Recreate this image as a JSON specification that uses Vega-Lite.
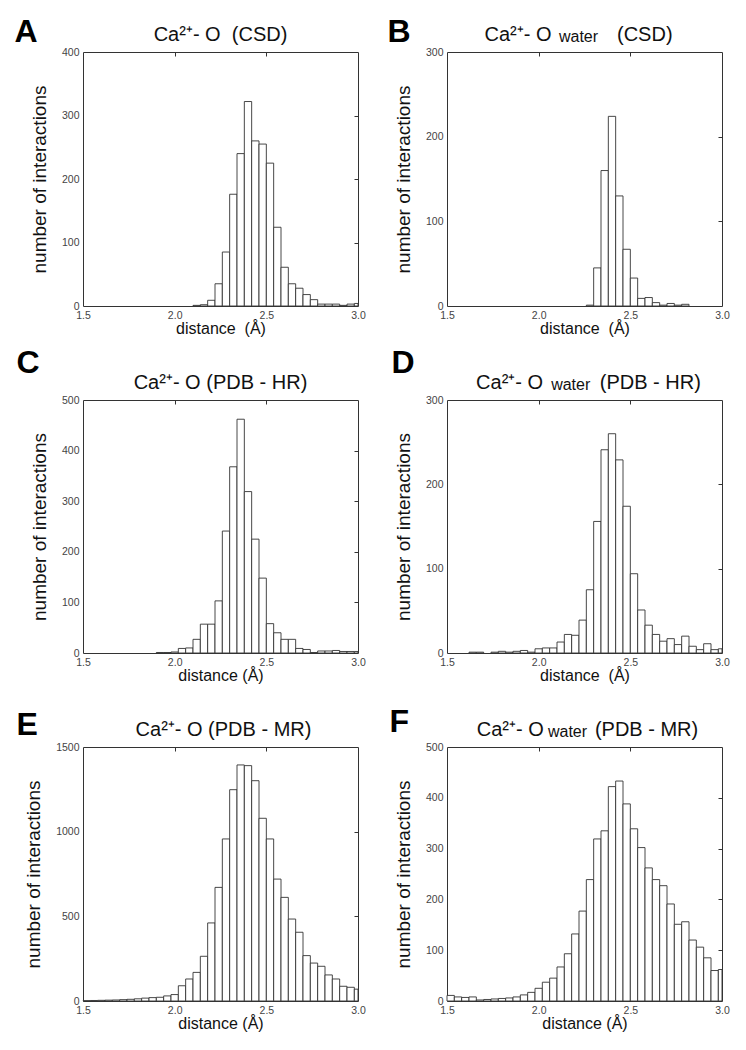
{
  "$schema": "https://vega.github.io/schema/vega-lite/v6.json",
  "padding": {"left": 13, "top": 14, "right": 5, "bottom": 5},
  "data": {"values": [
    {"p":"A","lo":2.10,"hi":2.14,"n":1},{"p":"A","lo":2.14,"hi":2.18,"n":2},{"p":"A","lo":2.18,"hi":2.22,"n":9},{"p":"A","lo":2.22,"hi":2.26,"n":35},{"p":"A","lo":2.26,"hi":2.30,"n":85},{"p":"A","lo":2.30,"hi":2.34,"n":176},{"p":"A","lo":2.34,"hi":2.38,"n":240},{"p":"A","lo":2.38,"hi":2.42,"n":322},{"p":"A","lo":2.42,"hi":2.46,"n":260},{"p":"A","lo":2.46,"hi":2.50,"n":255},{"p":"A","lo":2.50,"hi":2.54,"n":225},{"p":"A","lo":2.54,"hi":2.58,"n":124},{"p":"A","lo":2.58,"hi":2.62,"n":61},{"p":"A","lo":2.62,"hi":2.66,"n":35},{"p":"A","lo":2.66,"hi":2.70,"n":28},{"p":"A","lo":2.70,"hi":2.74,"n":18},{"p":"A","lo":2.74,"hi":2.78,"n":10},{"p":"A","lo":2.78,"hi":2.82,"n":3},{"p":"A","lo":2.82,"hi":2.86,"n":3},{"p":"A","lo":2.86,"hi":2.90,"n":3},{"p":"A","lo":2.90,"hi":2.94,"n":1},{"p":"A","lo":2.94,"hi":2.98,"n":3},{"p":"A","lo":2.98,"hi":3.00,"n":4},
    {"p":"B","lo":2.26,"hi":2.30,"n":1},{"p":"B","lo":2.30,"hi":2.34,"n":45},{"p":"B","lo":2.34,"hi":2.38,"n":160},{"p":"B","lo":2.38,"hi":2.42,"n":224},{"p":"B","lo":2.42,"hi":2.46,"n":130},{"p":"B","lo":2.46,"hi":2.50,"n":67},{"p":"B","lo":2.50,"hi":2.54,"n":33},{"p":"B","lo":2.54,"hi":2.58,"n":9},{"p":"B","lo":2.58,"hi":2.62,"n":10},{"p":"B","lo":2.62,"hi":2.66,"n":4},{"p":"B","lo":2.66,"hi":2.70,"n":1},{"p":"B","lo":2.70,"hi":2.74,"n":3},{"p":"B","lo":2.74,"hi":2.78,"n":1},{"p":"B","lo":2.78,"hi":2.82,"n":2},
    {"p":"C","lo":1.90,"hi":1.94,"n":1},{"p":"C","lo":1.94,"hi":1.98,"n":1},{"p":"C","lo":1.98,"hi":2.02,"n":2},{"p":"C","lo":2.02,"hi":2.06,"n":9},{"p":"C","lo":2.06,"hi":2.10,"n":10},{"p":"C","lo":2.10,"hi":2.14,"n":27},{"p":"C","lo":2.14,"hi":2.18,"n":57},{"p":"C","lo":2.18,"hi":2.22,"n":57},{"p":"C","lo":2.22,"hi":2.26,"n":103},{"p":"C","lo":2.26,"hi":2.30,"n":241},{"p":"C","lo":2.30,"hi":2.34,"n":368},{"p":"C","lo":2.34,"hi":2.38,"n":462},{"p":"C","lo":2.38,"hi":2.42,"n":319},{"p":"C","lo":2.42,"hi":2.46,"n":225},{"p":"C","lo":2.46,"hi":2.50,"n":148},{"p":"C","lo":2.50,"hi":2.54,"n":58},{"p":"C","lo":2.54,"hi":2.58,"n":40},{"p":"C","lo":2.58,"hi":2.62,"n":27},{"p":"C","lo":2.62,"hi":2.66,"n":27},{"p":"C","lo":2.66,"hi":2.70,"n":9},{"p":"C","lo":2.70,"hi":2.74,"n":7},{"p":"C","lo":2.74,"hi":2.78,"n":1},{"p":"C","lo":2.78,"hi":2.82,"n":4},{"p":"C","lo":2.82,"hi":2.86,"n":4},{"p":"C","lo":2.86,"hi":2.90,"n":5},{"p":"C","lo":2.90,"hi":2.94,"n":3},{"p":"C","lo":2.94,"hi":2.98,"n":3},{"p":"C","lo":2.98,"hi":3.00,"n":3},
    {"p":"D","lo":1.62,"hi":1.66,"n":1},{"p":"D","lo":1.66,"hi":1.70,"n":1},{"p":"D","lo":1.74,"hi":1.78,"n":1},{"p":"D","lo":1.78,"hi":1.82,"n":2},{"p":"D","lo":1.82,"hi":1.86,"n":1},{"p":"D","lo":1.86,"hi":1.90,"n":2},{"p":"D","lo":1.90,"hi":1.94,"n":3},{"p":"D","lo":1.94,"hi":1.98,"n":1},{"p":"D","lo":1.98,"hi":2.02,"n":5},{"p":"D","lo":2.02,"hi":2.06,"n":6},{"p":"D","lo":2.06,"hi":2.10,"n":6},{"p":"D","lo":2.10,"hi":2.14,"n":13},{"p":"D","lo":2.14,"hi":2.18,"n":22},{"p":"D","lo":2.18,"hi":2.22,"n":21},{"p":"D","lo":2.22,"hi":2.26,"n":39},{"p":"D","lo":2.26,"hi":2.30,"n":75},{"p":"D","lo":2.30,"hi":2.34,"n":156},{"p":"D","lo":2.34,"hi":2.38,"n":241},{"p":"D","lo":2.38,"hi":2.42,"n":260},{"p":"D","lo":2.42,"hi":2.46,"n":229},{"p":"D","lo":2.46,"hi":2.50,"n":174},{"p":"D","lo":2.50,"hi":2.54,"n":94},{"p":"D","lo":2.54,"hi":2.58,"n":51},{"p":"D","lo":2.58,"hi":2.62,"n":33},{"p":"D","lo":2.62,"hi":2.66,"n":22},{"p":"D","lo":2.66,"hi":2.70,"n":14},{"p":"D","lo":2.70,"hi":2.74,"n":17},{"p":"D","lo":2.74,"hi":2.78,"n":10},{"p":"D","lo":2.78,"hi":2.82,"n":20},{"p":"D","lo":2.82,"hi":2.86,"n":8},{"p":"D","lo":2.86,"hi":2.90,"n":4},{"p":"D","lo":2.90,"hi":2.94,"n":11},{"p":"D","lo":2.94,"hi":2.98,"n":4},{"p":"D","lo":2.98,"hi":3.00,"n":5},
    {"p":"E","lo":1.50,"hi":1.54,"n":2},{"p":"E","lo":1.54,"hi":1.58,"n":3},{"p":"E","lo":1.58,"hi":1.62,"n":4},{"p":"E","lo":1.62,"hi":1.66,"n":5},{"p":"E","lo":1.66,"hi":1.70,"n":6},{"p":"E","lo":1.70,"hi":1.74,"n":8},{"p":"E","lo":1.74,"hi":1.78,"n":10},{"p":"E","lo":1.78,"hi":1.82,"n":13},{"p":"E","lo":1.82,"hi":1.86,"n":17},{"p":"E","lo":1.86,"hi":1.90,"n":20},{"p":"E","lo":1.90,"hi":1.94,"n":22},{"p":"E","lo":1.94,"hi":1.98,"n":30},{"p":"E","lo":1.98,"hi":2.02,"n":38},{"p":"E","lo":2.02,"hi":2.06,"n":90},{"p":"E","lo":2.06,"hi":2.10,"n":130},{"p":"E","lo":2.10,"hi":2.14,"n":169},{"p":"E","lo":2.14,"hi":2.18,"n":264},{"p":"E","lo":2.18,"hi":2.22,"n":461},{"p":"E","lo":2.22,"hi":2.26,"n":671},{"p":"E","lo":2.26,"hi":2.30,"n":957},{"p":"E","lo":2.30,"hi":2.34,"n":1248},{"p":"E","lo":2.34,"hi":2.38,"n":1394},{"p":"E","lo":2.38,"hi":2.42,"n":1390},{"p":"E","lo":2.42,"hi":2.46,"n":1301},{"p":"E","lo":2.46,"hi":2.50,"n":1079},{"p":"E","lo":2.50,"hi":2.54,"n":957},{"p":"E","lo":2.54,"hi":2.58,"n":720},{"p":"E","lo":2.58,"hi":2.62,"n":612},{"p":"E","lo":2.62,"hi":2.66,"n":484},{"p":"E","lo":2.66,"hi":2.70,"n":406},{"p":"E","lo":2.70,"hi":2.74,"n":268},{"p":"E","lo":2.74,"hi":2.78,"n":224},{"p":"E","lo":2.78,"hi":2.82,"n":205},{"p":"E","lo":2.82,"hi":2.86,"n":154},{"p":"E","lo":2.86,"hi":2.90,"n":130},{"p":"E","lo":2.90,"hi":2.94,"n":87},{"p":"E","lo":2.94,"hi":2.98,"n":81},{"p":"E","lo":2.98,"hi":3.00,"n":70},
    {"p":"F","lo":1.50,"hi":1.54,"n":11},{"p":"F","lo":1.54,"hi":1.58,"n":8},{"p":"F","lo":1.58,"hi":1.62,"n":7},{"p":"F","lo":1.62,"hi":1.66,"n":8},{"p":"F","lo":1.66,"hi":1.70,"n":2},{"p":"F","lo":1.70,"hi":1.74,"n":3},{"p":"F","lo":1.74,"hi":1.78,"n":4},{"p":"F","lo":1.78,"hi":1.82,"n":5},{"p":"F","lo":1.82,"hi":1.86,"n":6},{"p":"F","lo":1.86,"hi":1.90,"n":8},{"p":"F","lo":1.90,"hi":1.94,"n":12},{"p":"F","lo":1.94,"hi":1.98,"n":17},{"p":"F","lo":1.98,"hi":2.02,"n":25},{"p":"F","lo":2.02,"hi":2.06,"n":37},{"p":"F","lo":2.06,"hi":2.10,"n":45},{"p":"F","lo":2.10,"hi":2.14,"n":67},{"p":"F","lo":2.14,"hi":2.18,"n":93},{"p":"F","lo":2.18,"hi":2.22,"n":132},{"p":"F","lo":2.22,"hi":2.26,"n":177},{"p":"F","lo":2.26,"hi":2.30,"n":239},{"p":"F","lo":2.30,"hi":2.34,"n":319},{"p":"F","lo":2.34,"hi":2.38,"n":335},{"p":"F","lo":2.38,"hi":2.42,"n":422},{"p":"F","lo":2.42,"hi":2.46,"n":433},{"p":"F","lo":2.46,"hi":2.50,"n":388},{"p":"F","lo":2.50,"hi":2.54,"n":339},{"p":"F","lo":2.54,"hi":2.58,"n":302},{"p":"F","lo":2.58,"hi":2.62,"n":262},{"p":"F","lo":2.62,"hi":2.66,"n":239},{"p":"F","lo":2.66,"hi":2.70,"n":227},{"p":"F","lo":2.70,"hi":2.74,"n":191},{"p":"F","lo":2.74,"hi":2.78,"n":151},{"p":"F","lo":2.78,"hi":2.82,"n":156},{"p":"F","lo":2.82,"hi":2.86,"n":120},{"p":"F","lo":2.86,"hi":2.90,"n":106},{"p":"F","lo":2.90,"hi":2.94,"n":85},{"p":"F","lo":2.94,"hi":2.98,"n":60},{"p":"F","lo":2.98,"hi":3.00,"n":62}
  ]},
  "columns": 2,
  "bounds": "flush",
  "spacing": {"row": 94, "column": 89},
  "concat": [
    {
      "width": 275, "height": 254,
      "transform": [{"filter": "datum.p === 'A'"}],
      "title": {"text": "Ca²⁺- O\u00a0\u00a0(CSD)", "dx": 0, "offset": -30},
      "layer": [
        {"mark": {"type": "bar", "fill": "white", "stroke": "#333", "strokeWidth": 0.9},
         "encoding": {
           "x": {"field": "lo", "type": "quantitative", "scale": {"domain": [1.5, 3], "nice": false, "zero": false}, "axis": {"orient": "bottom", "values": [1.5, 2, 2.5, 3], "format": ".1f", "title": "distance\u00a0\u00a0(Å)"}},
           "x2": {"field": "hi"},
           "y": {"field": "n", "type": "quantitative", "scale": {"domain": [0, 400], "nice": false}, "axis": {"orient": "left", "values": [0, 100, 200, 300, 400], "format": "d", "title": "number of interactions"}},
           "y2": {"datum": 0}
         }},
        {"mark": {"type": "bar", "opacity": 0},
         "encoding": {
           "x": {"field": "lo", "type": "quantitative", "axis": {"orient": "top", "values": [2, 2.5], "labels": false, "ticks": true, "tickSize": -4, "title": "A", "titleX": -69, "titleY": -11}},
           "x2": {"field": "hi"},
           "y": {"field": "n", "type": "quantitative", "axis": {"orient": "right", "values": [100, 200, 300], "labels": false, "ticks": true, "tickSize": -4, "title": null}},
           "y2": {"datum": 0}
         }}
      ],
      "resolve": {"axis": {"x": "independent", "y": "independent"}}
    },
    {
      "width": 275, "height": 254,
      "transform": [{"filter": "datum.p === 'B'"}],
      "title": {"text": "Ca²⁺- O\u2003\u2003\u2003\u00a0(CSD)", "subtitle": "water", "dx": -6, "offset": -30},
      "layer": [
        {"mark": {"type": "bar", "fill": "white", "stroke": "#333", "strokeWidth": 0.9},
         "encoding": {
           "x": {"field": "lo", "type": "quantitative", "scale": {"domain": [1.5, 3], "nice": false, "zero": false}, "axis": {"orient": "bottom", "values": [1.5, 2, 2.5, 3], "format": ".1f", "title": "distance\u00a0\u00a0(Å)"}},
           "x2": {"field": "hi"},
           "y": {"field": "n", "type": "quantitative", "scale": {"domain": [0, 300], "nice": false}, "axis": {"orient": "left", "values": [0, 100, 200, 300], "format": "d", "title": "number of interactions"}},
           "y2": {"datum": 0}
         }},
        {"mark": {"type": "bar", "opacity": 0},
         "encoding": {
           "x": {"field": "lo", "type": "quantitative", "axis": {"orient": "top", "values": [2, 2.5], "labels": false, "ticks": true, "tickSize": -4, "title": "B", "titleX": -60, "titleY": -11}},
           "x2": {"field": "hi"},
           "y": {"field": "n", "type": "quantitative", "axis": {"orient": "right", "values": [100, 200], "labels": false, "ticks": true, "tickSize": -4, "title": null}},
           "y2": {"datum": 0}
         }}
      ],
      "resolve": {"axis": {"x": "independent", "y": "independent"}}
    },
    {
      "width": 275, "height": 253,
      "transform": [{"filter": "datum.p === 'C'"}],
      "title": {"text": "Ca²⁺- O (PDB - HR)", "dx": 0, "offset": -47},
      "layer": [
        {"mark": {"type": "bar", "fill": "white", "stroke": "#333", "strokeWidth": 0.9},
         "encoding": {
           "x": {"field": "lo", "type": "quantitative", "scale": {"domain": [1.5, 3], "nice": false, "zero": false}, "axis": {"orient": "bottom", "values": [1.5, 2, 2.5, 3], "format": ".1f", "title": "distance (Å)"}},
           "x2": {"field": "hi"},
           "y": {"field": "n", "type": "quantitative", "scale": {"domain": [0, 500], "nice": false}, "axis": {"orient": "left", "values": [0, 100, 200, 300, 400, 500], "format": "d", "title": "number of interactions"}},
           "y2": {"datum": 0}
         }},
        {"mark": {"type": "bar", "opacity": 0},
         "encoding": {
           "x": {"field": "lo", "type": "quantitative", "axis": {"orient": "top", "values": [2, 2.5], "labels": false, "ticks": true, "tickSize": -4, "title": "C", "titleX": -67, "titleY": -28}},
           "x2": {"field": "hi"},
           "y": {"field": "n", "type": "quantitative", "axis": {"orient": "right", "values": [100, 200, 300, 400], "labels": false, "ticks": true, "tickSize": -4, "title": null}},
           "y2": {"datum": 0}
         }}
      ],
      "resolve": {"axis": {"x": "independent", "y": "independent"}}
    },
    {
      "width": 275, "height": 253,
      "transform": [{"filter": "datum.p === 'D'"}],
      "title": {"text": "Ca²⁺- O\u2003\u2003\u00a0\u00a0\u00a0(PDB - HR)", "subtitle": "water\u00a0\u00a0\u00a0\u00a0\u00a0\u00a0\u00a0\u00a0\u200b", "dx": 4, "offset": -47},
      "layer": [
        {"mark": {"type": "bar", "fill": "white", "stroke": "#333", "strokeWidth": 0.9},
         "encoding": {
           "x": {"field": "lo", "type": "quantitative", "scale": {"domain": [1.5, 3], "nice": false, "zero": false}, "axis": {"orient": "bottom", "values": [1.5, 2, 2.5, 3], "format": ".1f", "title": "distance\u00a0\u00a0(Å)"}},
           "x2": {"field": "hi"},
           "y": {"field": "n", "type": "quantitative", "scale": {"domain": [0, 300], "nice": false}, "axis": {"orient": "left", "values": [0, 100, 200, 300], "format": "d", "title": "number of interactions"}},
           "y2": {"datum": 0}
         }},
        {"mark": {"type": "bar", "opacity": 0},
         "encoding": {
           "x": {"field": "lo", "type": "quantitative", "axis": {"orient": "top", "values": [2, 2.5], "labels": false, "ticks": true, "tickSize": -4, "title": "D", "titleX": -56, "titleY": -28}},
           "x2": {"field": "hi"},
           "y": {"field": "n", "type": "quantitative", "axis": {"orient": "right", "values": [100, 200], "labels": false, "ticks": true, "tickSize": -4, "title": null}},
           "y2": {"datum": 0}
         }}
      ],
      "resolve": {"axis": {"x": "independent", "y": "independent"}}
    },
    {
      "width": 275, "height": 254,
      "transform": [{"filter": "datum.p === 'E'"}],
      "title": {"text": "Ca²⁺- O (PDB - MR)", "dx": 3, "offset": -32},
      "layer": [
        {"mark": {"type": "bar", "fill": "white", "stroke": "#333", "strokeWidth": 0.9},
         "encoding": {
           "x": {"field": "lo", "type": "quantitative", "scale": {"domain": [1.5, 3], "nice": false, "zero": false}, "axis": {"orient": "bottom", "values": [1.5, 2, 2.5, 3], "format": ".1f", "title": "distance (Å)"}},
           "x2": {"field": "hi"},
           "y": {"field": "n", "type": "quantitative", "scale": {"domain": [0, 1500], "nice": false}, "axis": {"orient": "left", "values": [0, 500, 1000, 1500], "format": "d", "title": "number of interactions"}},
           "y2": {"datum": 0}
         }},
        {"mark": {"type": "bar", "opacity": 0},
         "encoding": {
           "x": {"field": "lo", "type": "quantitative", "axis": {"orient": "top", "values": [2, 2.5], "labels": false, "ticks": true, "tickSize": -4, "title": "E", "titleX": -67, "titleY": -13}},
           "x2": {"field": "hi"},
           "y": {"field": "n", "type": "quantitative", "axis": {"orient": "right", "values": [500, 1000], "labels": false, "ticks": true, "tickSize": -4, "title": null}},
           "y2": {"datum": 0}
         }}
      ],
      "resolve": {"axis": {"x": "independent", "y": "independent"}}
    },
    {
      "width": 275, "height": 254,
      "transform": [{"filter": "datum.p === 'F'"}],
      "title": {"text": "Ca²⁺- O\u2003\u2003\u00a0\u00a0(PDB - MR)", "subtitle": "water\u00a0\u00a0\u00a0\u00a0\u00a0\u00a0\u00a0\u00a0\u00a0\u200b", "dx": 3, "offset": -35},
      "layer": [
        {"mark": {"type": "bar", "fill": "white", "stroke": "#333", "strokeWidth": 0.9},
         "encoding": {
           "x": {"field": "lo", "type": "quantitative", "scale": {"domain": [1.5, 3], "nice": false, "zero": false}, "axis": {"orient": "bottom", "values": [1.5, 2, 2.5, 3], "format": ".1f", "title": "distance (Å)"}},
           "x2": {"field": "hi"},
           "y": {"field": "n", "type": "quantitative", "scale": {"domain": [0, 500], "nice": false}, "axis": {"orient": "left", "values": [0, 100, 200, 300, 400, 500], "format": "d", "title": "number of interactions"}},
           "y2": {"datum": 0}
         }},
        {"mark": {"type": "bar", "opacity": 0},
         "encoding": {
           "x": {"field": "lo", "type": "quantitative", "axis": {"orient": "top", "values": [2, 2.5], "labels": false, "ticks": true, "tickSize": -4, "title": "F", "titleX": -58, "titleY": -16}},
           "x2": {"field": "hi"},
           "y": {"field": "n", "type": "quantitative", "axis": {"orient": "right", "values": [100, 200, 300, 400], "labels": false, "ticks": true, "tickSize": -4, "title": null}},
           "y2": {"datum": 0}
         }}
      ],
      "resolve": {"axis": {"x": "independent", "y": "independent"}}
    }
  ],
  "config": {
    "font": "Liberation Sans",
    "view": {"stroke": "#333", "strokeWidth": 1},
    "title": {"font": "Liberation Sans", "fontSize": 20, "fontWeight": "normal", "color": "#111", "subtitleFont": "Liberation Sans", "subtitleFontSize": 16, "subtitleColor": "#111", "subtitlePadding": -16, "anchor": "middle", "frame": "group"},
    "axis": {"grid": false, "domain": false, "ticks": false, "labelFlush": false, "labelFont": "Liberation Sans", "labelFontSize": 10.5, "labelColor": "#444", "labelPadding": 4, "tickColor": "#333", "titleFont": "Liberation Sans", "titleFontWeight": "normal", "titleColor": "#111"},
    "axisBottom": {"titleFontSize": 16, "titlePadding": 0},
    "axisLeft": {"titleFontSize": 19, "titlePadding": 12},
    "axisTop": {"titleFontSize": 32, "titleFontWeight": "bold", "titleColor": "#000", "titleAlign": "left", "titleBaseline": "alphabetic", "titleAngle": 0},
    "axisRight": {"ticks": true}
  }
}
